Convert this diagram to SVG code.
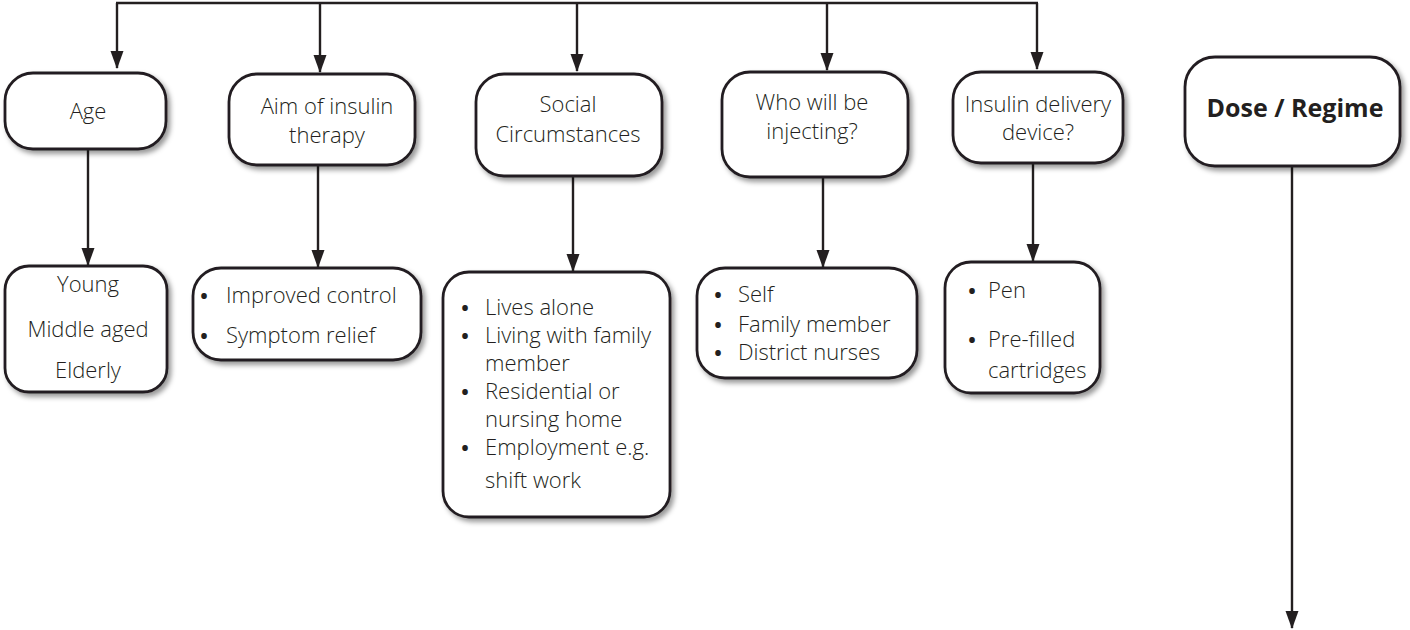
<svg xmlns="http://www.w3.org/2000/svg" width="1410" height="630" viewBox="0 0 1410 630">
<style>
.box{fill:#fff;stroke:#231f20;stroke-width:2.8;filter:url(#sh)}
.t{font-family:"Open Sans","Liberation Sans",sans-serif;font-size:22px;font-weight:300;fill:#231f20}
.c{text-anchor:middle}
.bl{font-size:20px;font-weight:700;text-anchor:middle}
.b{font-weight:bold;font-size:25px}
.ln{fill:none;stroke:#231f20;stroke-width:2.4}
</style>
<defs>
<filter id="sh" x="-10%" y="-10%" width="130%" height="130%">
<feDropShadow dx="3" dy="3.5" stdDeviation="2.5" flood-color="#000" flood-opacity="0.4"/>
</filter>
<marker id="ah" markerUnits="userSpaceOnUse" viewBox="0 -7 18 14" markerWidth="18" markerHeight="14" refX="17" refY="0" orient="auto">
<path d="M0,-6.5 L18,0 L0,6.5 z" fill="#231f20"/>
</marker>
</defs>
<g id="connectors">
<path class="ln" d="M117,3 V68" marker-end="url(#ah)"/>
<path class="ln" d="M116,3 H1038"/>
<path class="ln" d="M1037,3 V69" marker-end="url(#ah)"/>
<path class="ln" d="M320,3 V72" marker-end="url(#ah)"/>
<path class="ln" d="M577,3 V71" marker-end="url(#ah)"/>
<path class="ln" d="M827,3 V70" marker-end="url(#ah)"/>
<path class="ln" d="M88,149 V265" marker-end="url(#ah)"/>
<path class="ln" d="M318,165 V267" marker-end="url(#ah)"/>
<path class="ln" d="M573,176 V271" marker-end="url(#ah)"/>
<path class="ln" d="M823,177 V267" marker-end="url(#ah)"/>
<path class="ln" d="M1033,163 V261" marker-end="url(#ah)"/>
<path class="ln" d="M1292,166 V628" marker-end="url(#ah)"/>
</g>
<g id="age">
<rect class="box" x="5" y="73" width="161" height="76" rx="28"/>
<text class="t c" x="88" y="119">Age</text>
</g>
<g id="aim">
<rect class="box" x="229" y="74" width="186" height="91" rx="28"/>
<text class="t c" x="327" y="114">Aim of insulin</text>
<text class="t c" x="327" y="143">therapy</text>
</g>
<g id="social">
<rect class="box" x="476" y="74" width="186" height="102" rx="28"/>
<text class="t c" x="568" y="112">Social</text>
<text class="t c" x="568" y="142">Circumstances</text>
</g>
<g id="who">
<rect class="box" x="722" y="72" width="186" height="105" rx="28"/>
<text class="t c" x="812" y="110">Who will be</text>
<text class="t c" x="812" y="139">injecting?</text>
</g>
<g id="device">
<rect class="box" x="953" y="72" width="170" height="91" rx="28"/>
<text class="t c" x="1038" y="112">Insulin delivery</text>
<text class="t c" x="1038" y="140">device?</text>
</g>
<g id="dose">
<rect class="box" x="1185" y="57" width="215" height="109" rx="30"/>
<text class="t c b" x="1295" y="117">Dose / Regime</text>
</g>
<g id="age-list">
<rect class="box" x="5" y="266" width="162" height="126" rx="24"/>
<text class="t c" x="88" y="292">Young</text>
<text class="t c" x="88" y="337">Middle aged</text>
<text class="t c" x="88" y="378">Elderly</text>
</g>
<g id="aim-list">
<rect class="box" x="193" y="268" width="228" height="92" rx="28"/>
<text class="t bl" x="204" y="303">•</text>
<text class="t" x="226" y="303">Improved control</text>
<text class="t bl" x="204" y="343">•</text>
<text class="t" x="226" y="343">Symptom relief</text>
</g>
<g id="social-list">
<rect class="box" x="443" y="272" width="227" height="245" rx="26"/>
<text class="t bl" x="465" y="315">•</text>
<text class="t" x="485" y="315">Lives alone</text>
<text class="t bl" x="465" y="343">•</text>
<text class="t" x="485" y="343">Living with family</text>
<text class="t" x="485" y="371">member</text>
<text class="t bl" x="465" y="399">•</text>
<text class="t" x="485" y="399">Residential or</text>
<text class="t" x="485" y="427">nursing home</text>
<text class="t bl" x="465" y="455">•</text>
<text class="t" x="485" y="455">Employment e.g.</text>
<text class="t" x="485" y="488">shift work</text>
</g>
<g id="who-list">
<rect class="box" x="697" y="268" width="220" height="110" rx="28"/>
<text class="t bl" x="718" y="302">•</text>
<text class="t" x="738" y="302">Self</text>
<text class="t bl" x="718" y="332">•</text>
<text class="t" x="738" y="332">Family member</text>
<text class="t bl" x="718" y="360">•</text>
<text class="t" x="738" y="360">District nurses</text>
</g>
<g id="device-list">
<rect class="box" x="945" y="262" width="155" height="131" rx="26"/>
<text class="t bl" x="972" y="298">•</text>
<text class="t" x="988" y="298">Pen</text>
<text class="t bl" x="972" y="347">•</text>
<text class="t" x="988" y="347">Pre-filled</text>
<text class="t" x="988" y="378">cartridges</text>
</g>
</svg>
